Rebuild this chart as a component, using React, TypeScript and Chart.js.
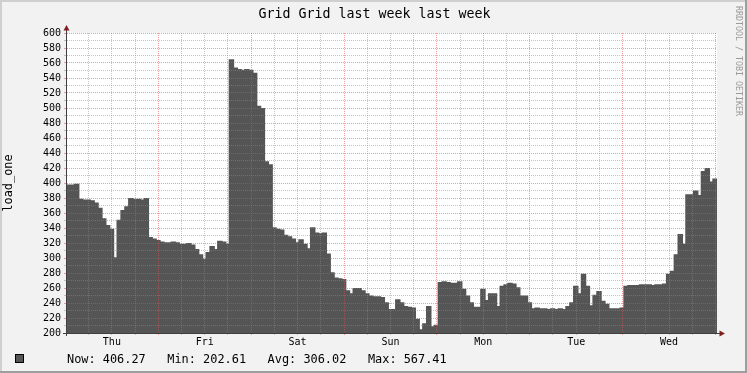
import React, { useEffect, useRef } from 'react';
import { Chart, registerables } from 'chart.js';

Chart.register(...registerables);

// ---- data ----
const TITLE = 'Grid Grid last week last week';
const Y_LABEL = 'load_one';
const WATERMARK = 'RRDTOOL / TOBI OETIKER';
const DAY_LABELS = ['Thu', 'Fri', 'Sat', 'Sun', 'Mon', 'Tue', 'Wed'];
const START_HOUR = 0.4; // hours after Thu 00:00 where the graph starts
const STEP_HOURS = 1;
const LOAD_ONE = [
  397, 397, 398, 378, 377, 377, 376, 373, 366, 352,
  343, 338, 300, 350, 363, 368, 379, 378, 378, 377,
  379, 327, 325, 323, 321, 320, 320, 321, 320, 318,
  318, 319, 317, 311, 304, 298, 307, 315, 311, 322,
  321, 318, 564, 553, 551, 550, 551, 550, 546, 502,
  499, 428, 424, 340, 338, 337, 330, 328, 325, 320,
  324, 318, 312, 340, 333, 332, 333, 305, 280, 273,
  272, 271, 256, 252, 259, 259, 256, 252, 249, 248,
  248, 247, 240, 231, 231, 244, 240, 235, 234, 233,
  218, 204, 212, 235, 208, 210, 267, 268, 267, 266,
  266, 268, 258, 249, 240, 234, 234, 258, 243, 252,
  252, 235, 262, 264, 266, 265, 260, 249, 249, 240,
  232, 233, 232, 232, 231, 232, 231, 232, 231, 235,
  240, 262, 252, 278, 262, 236, 250, 255, 242, 238,
  232, 232, 232, 233, 262, 263, 263, 263, 264, 264,
  264, 263, 264, 264, 265, 278, 282, 304, 331, 318,
  384, 384, 389, 383, 415, 419, 401, 405,
];
const Y_MIN = 200;
const Y_MAX = 600;
const Y_MINOR_STEP = 10;
const Y_MAJOR_STEP = 20;
const X_MINOR_STEP = 6;
const LEGEND_LABELS = ['Now:', 'Min:', 'Avg:', 'Max:'];
const LEGEND_VALUES = ['406.27', '202.61', '306.02', '567.41'];

const MONO = "'DejaVu Sans Mono', monospace";
const AREA = '#555555';
const GRID_MINOR = 'rgba(140,140,140,0.5)';
const GRID_MAJOR = 'rgba(222,79,79,0.55)';
const ARROW = '#801f1f';
const AXIS = '#404040';

export default function App() {
  const ref = useRef<HTMLCanvasElement>(null);

  useEffect(() => {
    const canvas = ref.current;
    if (!canvas) return;
    const END_HOUR = START_HOUR + LOAD_ONE.length * STEP_HOURS;
    const points = LOAD_ONE.map((v, i) => ({ x: START_HOUR + i * STEP_HOURS, y: v }));
    points.push({ x: END_HOUR, y: LOAD_ONE[LOAD_ONE.length - 1] });

    const decor = {
      id: 'rrdDecor',
      beforeDraw(chart: any) {
        const { ctx, width, height, chartArea } = chart;
        ctx.save();
        ctx.fillStyle = '#f2f2f2';
        ctx.fillRect(0, 0, width, height);
        ctx.fillStyle = '#cfcfcf';
        ctx.fillRect(0, 0, width, 2);
        ctx.fillRect(0, 0, 2, height);
        ctx.fillStyle = '#9e9e9e';
        ctx.fillRect(0, height - 2, width, 2);
        ctx.fillRect(width - 2, 0, 2, height);
        ctx.fillStyle = '#ffffff';
        ctx.fillRect(chartArea.left, chartArea.top, chartArea.right - chartArea.left, chartArea.bottom - chartArea.top);
        ctx.restore();
      },
      afterDraw(chart: any) {
        const { ctx, width, chartArea } = chart;
        const { left, right, top, bottom } = chartArea;
        ctx.save();
        // axes
        ctx.strokeStyle = AXIS;
        ctx.lineWidth = 1;
        ctx.beginPath();
        ctx.moveTo(left - 0.5, bottom + 3);
        ctx.lineTo(left - 0.5, top - 4);
        ctx.moveTo(left - 4, bottom + 0.5);
        ctx.lineTo(right + 4, bottom + 0.5);
        ctx.stroke();
        // arrows
        ctx.fillStyle = ARROW;
        ctx.beginPath();
        ctx.moveTo(left - 0.5, top - 8);
        ctx.lineTo(left - 3.5, top - 2.5);
        ctx.lineTo(left + 2.5, top - 2.5);
        ctx.closePath();
        ctx.fill();
        ctx.beginPath();
        ctx.moveTo(right + 8, bottom + 0.5);
        ctx.lineTo(right + 2.5, bottom - 2.5);
        ctx.lineTo(right + 2.5, bottom + 3.5);
        ctx.closePath();
        ctx.fill();
        // title
        ctx.fillStyle = '#000';
        ctx.font = `13.3px ${MONO}`;
        ctx.textAlign = 'center';
        ctx.textBaseline = 'alphabetic';
        ctx.fillText(TITLE, width / 2 + 1, 18);
        // legend
        ctx.fillStyle = AREA;
        ctx.fillRect(15, 354, 9, 9);
        ctx.strokeStyle = '#000';
        ctx.strokeRect(15.5, 354.5, 8, 8);
        ctx.fillStyle = '#000';
        ctx.font = `11.9px ${MONO}`;
        ctx.textAlign = 'left';
        LEGEND_LABELS.forEach((lab, k) => {
          ctx.fillText(`${lab} ${LEGEND_VALUES[k]}`, left + k * 100.3, 363);
        });
        // watermark
        ctx.translate(width - 9, 6);
        ctx.rotate(Math.PI / 2);
        ctx.fillStyle = '#9a9a9a';
        ctx.font = `8.3px ${MONO}`;
        ctx.textAlign = 'left';
        ctx.textBaseline = 'middle';
        ctx.fillText(WATERMARK, 0, 0);
        ctx.restore();
      },
    };

    const chart = new Chart(canvas, {
      type: 'line',
      data: {
        datasets: [
          {
            data: points,
            stepped: 'before',
            fill: 'start',
            backgroundColor: AREA,
            borderColor: AREA,
            borderWidth: 1.6,
            pointRadius: 0,
          },
        ],
      },
      options: {
        responsive: false,
        animation: false,
        devicePixelRatio: 1,
        events: [],
        layout: { padding: { top: 33, right: 30, bottom: 0, left: 0 } },
        plugins: {
          legend: { display: false },
          tooltip: { enabled: false },
          title: { display: false },
        },
        scales: {
          x: {
            type: 'linear',
            min: START_HOUR,
            max: END_HOUR,
            afterFit: (s: any) => {
              s.height = 40;
            },
            afterBuildTicks: (s: any) => {
              const t = [];
              for (let h = Math.ceil(START_HOUR / X_MINOR_STEP) * X_MINOR_STEP; h <= END_HOUR; h += X_MINOR_STEP) t.push({ value: h });
              s.ticks = t;
            },
            ticks: {
              autoSkip: false,
              maxRotation: 0,
              padding: 1,
              color: '#000',
              font: { family: MONO, size: 10 },
              callback: (v: any) => (v % 24 === 12 ? DAY_LABELS[Math.floor(v / 24)] : ''),
            },
            grid: {
              z: 1,
              color: (c: any) => (c.tick && c.tick.value % 24 === 0 ? GRID_MAJOR : GRID_MINOR),
              tickLength: 2,
              lineWidth: 1,
            },
            border: { display: false, dash: [1, 1] },
          },
          y: {
            type: 'linear',
            min: Y_MIN,
            max: Y_MAX,
            afterFit: (s: any) => {
              s.width = 67;
            },
            afterBuildTicks: (s: any) => {
              const t = [];
              for (let v = Y_MIN; v <= Y_MAX; v += Y_MINOR_STEP) t.push({ value: v });
              s.ticks = t;
            },
            ticks: {
              autoSkip: false,
              padding: 3,
              color: '#000',
              font: { family: MONO, size: 10 },
              callback: (v: any) => (v % Y_MAJOR_STEP === 0 ? String(v) : ''),
            },
            grid: {
              z: 1,
              color: (c: any) => (c.tick && c.tick.value % Y_MAJOR_STEP === 0 ? GRID_MAJOR : GRID_MINOR),
              tickLength: 3,
              lineWidth: 1,
            },
            border: { display: false, dash: [1, 1] },
            title: {
              display: true,
              text: Y_LABEL,
              color: '#000',
              font: { family: MONO, size: 11.9 },
              padding: { top: 2, bottom: 0 },
            },
          },
        },
      },
      plugins: [decor],
    } as any);

    return () => chart.destroy();
  }, []);

  return (
    <div style={{ position: 'fixed', left: 0, top: 0, width: 747, height: 373 }}>
      <canvas ref={ref} width={747} height={373} style={{ display: 'block', width: 747, height: 373 }} />
    </div>
  );
}
